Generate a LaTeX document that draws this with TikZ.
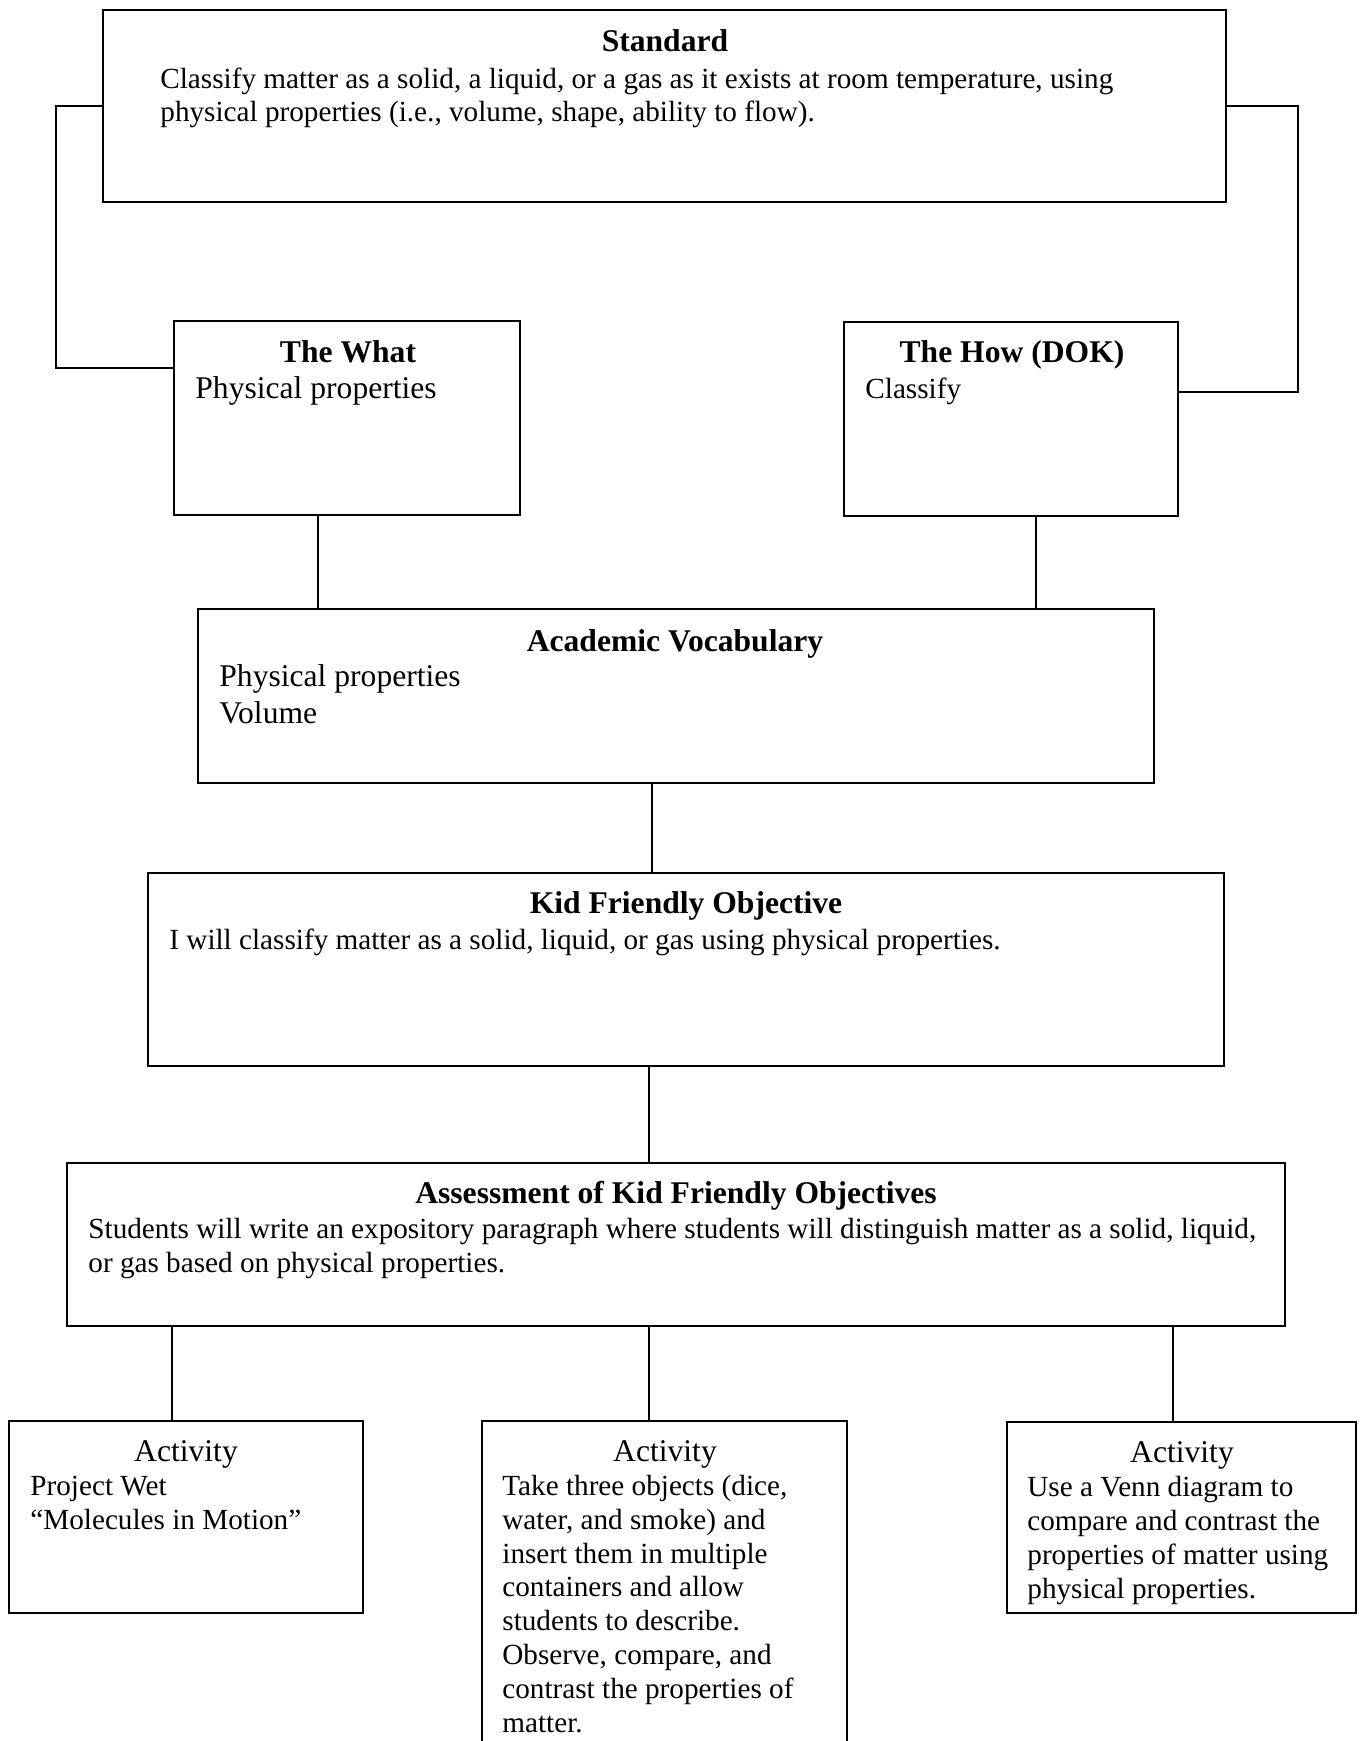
\documentclass[tikz,border=0pt]{standalone}
\usepackage{fontspec}
\setmainfont{Liberation Serif}
\usetikzlibrary{calc}
\newcommand\bodyf{\fontsize{14.6}{17.2}\selectfont}
\newcommand\headf{\fontsize{15.8}{18}\selectfont}
\tikzset{
  box/.style={draw=black, line width=1pt, rectangle, inner sep=0pt},
  conn/.style={draw=black, line width=0.8pt},
  head/.style={font=\headf\bfseries, anchor=base, inner sep=0pt},
  acthead/.style={font=\headf, anchor=base, inner sep=0pt},
  line/.style={font=\bodyf, anchor=base west, inner sep=0pt},
  bigline/.style={font=\headf, anchor=base west, inner sep=0pt}
}
\begin{document}
\begin{tikzpicture}[x=0.5pt, y=-0.5pt]
\clip (0,0) rectangle (1364,1741);
\useasboundingbox (0,0) rectangle (1364,1741);
% boxes
\node[box, minimum width=561.5pt, minimum height=96pt] (std) at (664.5,106) {};
\node[box, minimum width=173pt, minimum height=97pt] (what) at (347,418) {};
\node[box, minimum width=167pt, minimum height=97pt] (how) at (1011,419) {};
\node[box, minimum width=478pt, minimum height=87pt] (voc) at (676,696) {};
\node[box, minimum width=538pt, minimum height=96.5pt] (kid) at (686,969.5) {};
\node[box, minimum width=609pt, minimum height=81.5pt] (ass) at (676,1244.5) {};
\node[box, minimum width=177pt, minimum height=96pt] (act1) at (186,1517) {};
\node[box, minimum width=182.5pt, minimum height=169.5pt] (act2) at (664.5,1590.5) {};
\node[box, minimum width=174.5pt, minimum height=95.5pt] (act3) at (1181.5,1517.5) {};
% texts
\node[head] (stdt) at (665,51) {Standard};
\node[line] (std1) at (160,88) {Classify matter as a solid, a liquid, or a gas as it exists at room temperature, using};
\node[line] (std2) at (160,121) {physical properties (i.e., volume, shape, ability to flow).};
\node[head] (whatt) at (348,362) {The What};
\node[bigline] (what1) at (195,398) {Physical properties};
\node[head] (howt) at (1012,362) {The How (DOK)};
\node[line] (how1) at (865,398) {Classify};
\node[head] (voct) at (675,651) {Academic Vocabulary};
\node[bigline] (voc1) at (219,686) {Physical properties};
\node[bigline] (voc2) at (219,723) {Volume};
\node[head] (kidt) at (686,913) {Kid Friendly Objective};
\node[line] (kid1) at (169,949) {I will classify matter as a solid, liquid, or gas using physical properties.};
\node[head] (asst) at (676,1203) {Assessment of Kid Friendly Objectives};
\node[line] (ass1) at (88,1238) {Students will write an expository paragraph where students will distinguish matter as a solid, liquid,};
\node[line] (ass2) at (88,1272) {or gas based on physical properties.};
\node[acthead] (a1t) at (186,1461) {Activity};
\node[line] (a11) at (30,1495) {Project Wet};
\node[line] (a12) at (30,1529) {“Molecules in Motion”};
\node[acthead] (a2t) at (665,1461) {Activity};
\node[line] (a21) at (502,1495) {Take three objects (dice,};
\node[line] (a22) at (502,1529) {water, and smoke) and};
\node[line] (a23) at (502,1563) {insert them in multiple};
\node[line] (a24) at (502,1596) {containers and allow};
\node[line] (a25) at (502,1630) {students to describe.};
\node[line] (a26) at (502,1664) {Observe, compare, and};
\node[line] (a27) at (502,1698) {contrast the properties of};
\node[line] (a28) at (502,1732) {matter.};
\node[acthead] (a3t) at (1182,1462) {Activity};
\node[line] (a31) at (1027,1496) {Use a Venn diagram to};
\node[line] (a32) at (1027,1530) {compare and contrast the};
\node[line] (a33) at (1027,1564) {properties of matter using};
\node[line] (a34) at (1027,1598) {physical properties.};
% connectors
\draw[conn] (std.west) -- ++(-46,0) |- ($(what.north west)+(0,48)$);
\draw[conn] (std.east) -- ++(71,0) |- ($(how.north east)+(0,71)$);
\draw[conn] (what.south) ++(-29,0) coordinate (cw) -- (cw |- voc.north);
\draw[conn] (how.south) ++(25,0) coordinate (ch) -- (ch |- voc.north);
\draw[conn] (voc.south) ++(-24,0) coordinate (cv) -- (cv |- kid.north);
\draw[conn] (kid.south) ++(-37,0) coordinate (ck) -- (ck |- ass.north);
\draw[conn] (act1.north) ++(-14,0) coordinate (c1) -- (c1 |- ass.south);
\draw[conn] (act2.north) ++(-15.5,0) coordinate (c2) -- (c2 |- ass.south);
\draw[conn] (act3.north) ++(-8.5,0) coordinate (c3) -- (c3 |- ass.south);
\end{tikzpicture}
\end{document}
